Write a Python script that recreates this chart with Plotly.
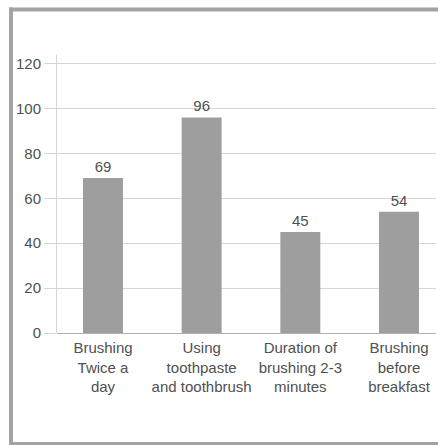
import plotly.graph_objects as go

categories = ["Brushing<br>Twice a<br>day", "Using<br>toothpaste<br>and toothbrush",
              "Duration of<br>brushing 2-3<br>minutes", "Brushing<br>before<br>breakfast"]
values = [69, 96, 45, 54]
y_ticks = [0, 20, 40, 60, 80, 100, 120]

W, H = 438, 445
ml, mr, mt, mb = 57, 2, 55, 112

FONT = "Liberation Sans, Arial, sans-serif"

fig = go.Figure(go.Bar(
    x=list(range(len(categories))), y=values,
    width=0.405,
    marker=dict(color="#9e9e9e", line=dict(width=0)),
    text=[str(v) for v in values], textposition="outside",
    textfont=dict(family=FONT, size=15, color="#505050"),
    cliponaxis=False,
    hoverinfo="skip",
))

pw = W - ml - mr
ph = H - mt - mb

def px_x(x):
    return (x - ml) / pw

def px_y(y):
    return (H - mb - y) / ph

fig.update_layout(
    width=W, height=H,
    margin=dict(l=ml, r=mr, t=mt, b=mb, pad=0),
    paper_bgcolor="white", plot_bgcolor="white",
    showlegend=False,
    font=dict(family=FONT, size=15, color="#505050"),
    xaxis=dict(
        tickmode="array", tickvals=list(range(len(categories))), ticktext=categories,
        range=[-0.466, 3.375], showgrid=False, zeroline=False,
        showline=False, ticks="", tickfont=dict(size=15, color="#505050"),
        ticklabelstandoff=4,
        fixedrange=True,
    ),
    yaxis=dict(
        range=[0, 123.8], tickmode="array", tickvals=y_ticks,
        showgrid=True, gridcolor="#d6d6d6", gridwidth=1,
        zeroline=True, zerolinecolor="#b0b0b0", zerolinewidth=1,
        showline=True, linecolor="#d6d6d6", linewidth=1,
        ticks="outside", ticklen=12, tickcolor="#d6d6d6", tickwidth=1,
        tickfont=dict(size=15, color="#505050"),
        fixedrange=True,
    ),
    shapes=[
        dict(type="line", xref="paper", yref="paper",
             x0=px_x(9), x1=px_x(440), y0=px_y(9.5), y1=px_y(9.5),
             line=dict(color="#a3a3a3", width=4)),
        dict(type="line", xref="paper", yref="paper",
             x0=px_x(11), x1=px_x(11), y0=px_y(7.5), y1=px_y(446),
             line=dict(color="#a3a3a3", width=4)),
        dict(type="line", xref="paper", yref="paper",
             x0=px_x(9), x1=px_x(440), y0=px_y(443.5), y1=px_y(443.5),
             line=dict(color="#a3a3a3", width=3)),
    ],
)

fig.write_html("out.html",
               config={"displayModeBar": False, "staticPlot": True},
               post_script="document.body.style.margin='0';document.body.style.overflow='hidden';")
